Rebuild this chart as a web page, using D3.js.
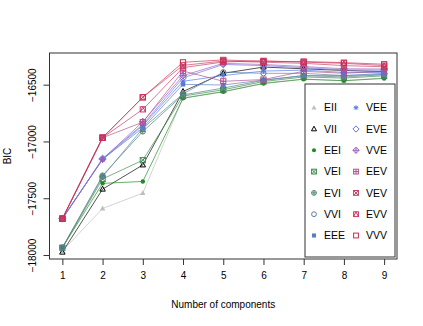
<!DOCTYPE html>
<html>
<head>
<meta charset="utf-8">
<script src="https://cdn.jsdelivr.net/npm/d3@7"></script>
<style>
  body { margin: 0; background: #fff; }
  text { font-family: "Liberation Sans", Arial, sans-serif; fill: #000; }
</style>
</head>
<body>
<div id="chart"></div>
<script>
// number of mixture components on the x axis
var components = [1, 2, 3, 4, 5, 6, 7, 8, 9];
var yTicks = [-18000, -17500, -17000, -16500];

// model names, in legend order
var models = ["EII", "VII", "EEI", "VEI", "EVI", "VVI", "EEE",
              "VEE", "EVE", "VVE", "EEV", "VEV", "EVV", "VVV"];

// BIC per model
var bicEII = [-17965, -17590, -17455, -16615, -16560, -16485, -16450, -16465, -16440];
var bicVII = [-17975, -17420, -17207, -16560, -16400, -16345, -16360, -16375, -16385];
var bicEEI = [-17935, -17369, -17352, -16620, -16562, -16490, -16452, -16465, -16445];
var bicVEI = [-17935, -17330, -17165, -16600, -16545, -16472, -16432, -16442, -16422];
var bicEVI = [-17935, -17300, -16912, -16590, -16530, -16462, -16420, -16432, -16412];
var bicVVI = [-17935, -17310, -16885, -16580, -16390, -16400, -16400, -16420, -16400];
var bicEEE = [-17680, -17157, -16880, -16497, -16503, -16459, -16420, -16420, -16410];
var bicVEE = [-17680, -17157, -16860, -16470, -16420, -16380, -16372, -16392, -16392];
var bicEVE = [-17680, -17150, -16850, -16440, -16322, -16332, -16350, -16370, -16372];
var bicVVE = [-17680, -17157, -16826, -16420, -16312, -16322, -16340, -16360, -16362];
var bicEEV = [-17680, -16967, -16830, -16380, -16470, -16455, -16382, -16400, -16382];
var bicVEV = [-17680, -16967, -16611, -16330, -16292, -16302, -16312, -16332, -16342];
var bicEVV = [-17680, -16967, -16717, -16350, -16300, -16290, -16302, -16312, -16332];
var bicVVV = [-17680, -16967, -16611, -16303, -16282, -16295, -16296, -16306, -16320];

var bicValues = [bicEII, bicVII, bicEEI, bicVEI, bicEVI, bicVVI, bicEEE,
                 bicVEE, bicEVE, bicVVE, bicEEV, bicVEV, bicEVV, bicVVV];

var modelColors = ["#BEBEBE", "#000000", "#218B21", "#41884F", "#508476", "#58819C", "#597DC3",
                   "#5178EA", "#716EE7", "#9B60B8", "#B2508B", "#C03F60", "#C8376B", "#CC2C4E"];
var modelSymbols = ["triFill", "tri", "dot", "boxX", "circlePlus", "circle", "boxFill",
                    "star", "diamond", "diamondPlus", "boxPlus", "boxX", "boxTri", "box"];

var width = 423, height = 326;
var svg = d3.select('#chart').append('svg')
  .attr('width', width)
  .attr('height', height);

var x = d3.scaleLinear().domain([0.68, 9.32]).range([49.5, 397]);
var y = d3.scaleLinear().domain([-18035, -16221]).range([259, 53]);

/** draw one R-style plotting symbol */
function symbol(g, kind, cx, cy, col, r) {
  var s = g.append('g').attr('transform', 'translate(' + cx + ',' + cy + ')')
    .attr('stroke', col).attr('stroke-width', 1).attr('fill', 'none');
  var tri = [[0, -r * 1.15], [r * 1.05, r * 0.75], [-r * 1.05, r * 0.75]].join(' ');
  var dia = [[0, -r * 1.3], [r * 1.3, 0], [0, r * 1.3], [-r * 1.3, 0]].join(' ');
  if (kind == 'triFill') s.append('polygon').attr('points', tri).attr('fill', col).attr('stroke', 'none');
  if (kind == 'tri') s.append('polygon').attr('points', tri);
  if (kind == 'dot') s.append('circle').attr('r', r * 0.85).attr('fill', col).attr('stroke', 'none');
  if (kind == 'circle' || kind == 'circlePlus') s.append('circle').attr('r', r);
  if (kind == 'circlePlus') {
    s.append('line').attr('x1', -r).attr('x2', r);
    s.append('line').attr('y1', -r).attr('y2', r);
  }
  if (kind == 'boxFill') s.append('rect').attr('x', -r * 0.85).attr('y', -r * 0.85)
    .attr('width', r * 1.7).attr('height', r * 1.7).attr('fill', col).attr('stroke', 'none');
  if (kind == 'box' || kind == 'boxX' || kind == 'boxPlus' || kind == 'boxTri')
    s.append('rect').attr('x', -r).attr('y', -r).attr('width', 2 * r).attr('height', 2 * r);
  if (kind == 'boxX') {
    s.append('line').attr('x1', -r).attr('y1', -r).attr('x2', r).attr('y2', r);
    s.append('line').attr('x1', -r).attr('y1', r).attr('x2', r).attr('y2', -r);
  }
  if (kind == 'boxPlus') {
    s.append('line').attr('x1', -r).attr('x2', r);
    s.append('line').attr('y1', -r).attr('y2', r);
  }
  if (kind == 'boxTri') s.append('polyline').attr('points', [[-r, r], [0, -r], [r, r]].join(' '));
  if (kind == 'diamond' || kind == 'diamondPlus') s.append('polygon').attr('points', dia);
  if (kind == 'diamondPlus') {
    s.append('line').attr('x1', -r * 1.3).attr('x2', r * 1.3);
    s.append('line').attr('y1', -r * 1.3).attr('y2', r * 1.3);
  }
  if (kind == 'star') {
    s.append('line').attr('x1', -r).attr('x2', r);
    s.append('line').attr('y1', -r).attr('y2', r);
    s.append('line').attr('x1', -r * 0.75).attr('y1', -r * 0.75).attr('x2', r * 0.75).attr('y2', r * 0.75);
    s.append('line').attr('x1', -r * 0.75).attr('y1', r * 0.75).attr('x2', r * 0.75).attr('y2', -r * 0.75);
  }
}

// series lines + points
var line = d3.line().x((d, i) => x(components[i])).y(d => y(d));
var plot = svg.append('g');
models.forEach(function (m, k) {
  plot.append('path')
    .datum(bicValues[k])
    .attr('d', line)
    .attr('fill', 'none')
    .attr('stroke', modelColors[k])
    .attr('stroke-opacity', 0.85)
    .attr('stroke-width', 0.8);
});
models.forEach(function (m, k) {
  bicValues[k].forEach(function (v, i) {
    symbol(plot, modelSymbols[k], x(components[i]), y(v), modelColors[k], 2.6);
  });
});

// plot frame
svg.append('rect')
  .attr('x', 49.5).attr('y', 53).attr('width', 397 - 49.5).attr('height', 259 - 53)
  .attr('fill', 'none').attr('stroke', '#333').attr('stroke-width', 1);

// x axis
var xAxis = svg.append('g').attr('transform', 'translate(0,259)')
  .call(d3.axisBottom(x).tickValues(components).tickSize(6).tickPadding(7).tickFormat(d3.format('d')));
xAxis.select('.domain').remove();
xAxis.selectAll('text').attr('font-size', 10).attr('font-family', '"Liberation Sans", Arial, sans-serif');
xAxis.selectAll('line').attr('stroke', '#333');

// y axis, labels parallel to the axis as R does
var yAxis = svg.append('g').attr('transform', 'translate(49.5,0)')
  .call(d3.axisLeft(y).tickValues(yTicks).tickSize(6).tickFormat(d3.format('d')));
yAxis.select('.domain').remove();
yAxis.selectAll('line').attr('stroke', '#333');
yAxis.selectAll('text')
  .attr('font-size', 10)
  .attr('font-family', '"Liberation Sans", Arial, sans-serif')
  .attr('x', 0).attr('dy', 0)
  .attr('text-anchor', 'middle')
  .attr('transform', 'translate(-14,0) rotate(-90)');

svg.append('text')
  .attr('x', (49.5 + 397) / 2).attr('y', 308)
  .attr('text-anchor', 'middle').attr('font-size', 10)
  .text('Number of components');

svg.append('text')
  .attr('transform', 'translate(11,156) rotate(-90)')
  .attr('text-anchor', 'middle').attr('font-size', 10)
  .text('BIC');

// legend
var legend = svg.append('g');
legend.append('rect')
  .attr('x', 305).attr('y', 84).attr('width', 90).attr('height', 173)
  .attr('fill', '#fff').attr('stroke', '#333').attr('stroke-width', 1);
models.forEach(function (m, k) {
  var col = Math.floor(k / 7), row = k % 7;
  var cx = 314 + col * 42, cy = 107.7 + row * 21.3;
  symbol(legend, modelSymbols[k], cx, cy, modelColors[k], 2.4);
  legend.append('text')
    .attr('x', cx + 10).attr('y', cy + 3.6)
    .attr('font-size', 10.5)
    .text(m);
});
</script>
</body>
</html>
